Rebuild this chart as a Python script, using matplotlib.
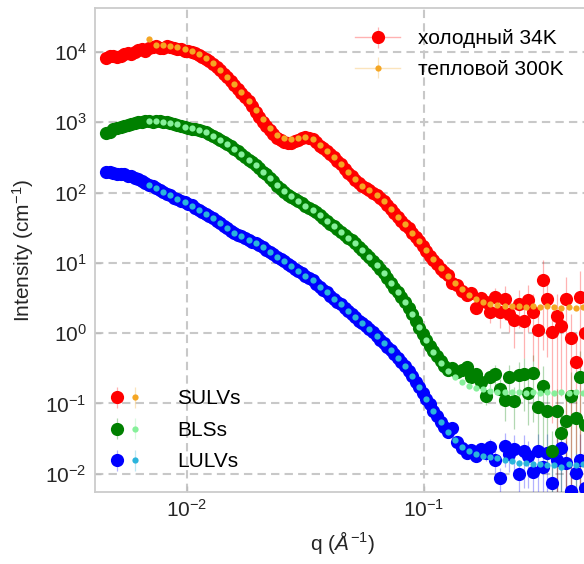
import numpy as np
import matplotlib
matplotlib.use("Agg")
import matplotlib.pyplot as plt
from matplotlib.lines import Line2D
from matplotlib.legend_handler import HandlerTuple

plt.rcParams['font.family'] = ['Liberation Sans', 'DejaVu Sans']
plt.rcParams['mathtext.fontset'] = 'custom'
plt.rcParams['mathtext.rm'] = 'Liberation Sans'
plt.rcParams['mathtext.it'] = 'Liberation Sans:italic'
plt.rcParams['mathtext.bf'] = 'Liberation Sans:bold'

# q grids (A^-1): cold source two detector settings, thermal source one
q_cold = np.concatenate([10 ** np.linspace(-2.34, -0.90, 97),
                         10 ** np.linspace(-0.88, -0.30, 30)])
q_warm = 10 ** np.linspace(-2.16, -0.30, 63)

# log10 intensity, cold neutrons (34 K)
sulv_cold_lg = [3.92, 3.95, 3.94, 3.93, 3.95, 3.97, 3.98, 3.97, 4.00, 4.03,
                4.04, 4.02, 4.05, 4.07, 4.08, 4.05, 4.06, 4.08, 4.07, 4.05,
                4.04, 4.04, 4.02, 4.01, 4.00, 3.98, 3.96, 3.93, 3.90, 3.87,
                3.83, 3.79, 3.74, 3.69, 3.64, 3.59, 3.53, 3.48, 3.42, 3.36,
                3.30, 3.23, 3.15, 3.08, 3.01, 2.95, 2.89, 2.83, 2.78, 2.75,
                2.72, 2.71, 2.71, 2.73, 2.75, 2.77, 2.79, 2.78, 2.76, 2.72,
                2.67, 2.63, 2.59, 2.55, 2.50, 2.45, 2.40, 2.34, 2.28, 2.23,
                2.18, 2.13, 2.09, 2.06, 2.03, 2.00, 1.97, 1.93, 1.88, 1.83,
                1.77, 1.71, 1.65, 1.60, 1.54, 1.49, 1.43, 1.37, 1.31, 1.24,
                1.17, 1.10, 1.04, 0.98, 0.92, 0.87, 0.83,
                0.72, 0.68, 0.60, 0.55, 0.57, 0.36, 0.50, 0.44, 0.30, 0.51,
                0.30, 0.49, 0.28, 0.19, 0.42, 0.17, 0.47, 0.30, 0.05, 0.76,
                0.48, 0.02, 0.25, 0.10, 0.48, -0.07, -0.41, 0.52, 0.00, 0.35]
bls_cold_lg = [2.85, 2.86, 2.90, 2.92, 2.93, 2.95, 2.96, 2.97, 2.99, 3.00,
               3.01, 3.02, 3.02, 3.01, 3.02, 3.02, 3.01, 3.00, 2.99, 2.98,
               2.96, 2.95, 2.93, 2.92, 2.91, 2.90, 2.89, 2.88, 2.86, 2.84,
               2.81, 2.78, 2.75, 2.72, 2.69, 2.66, 2.62, 2.59, 2.55, 2.51,
               2.47, 2.43, 2.39, 2.35, 2.30, 2.26, 2.21, 2.16, 2.10, 2.05,
               2.01, 1.97, 1.94, 1.91, 1.88, 1.85, 1.81, 1.78, 1.75, 1.72,
               1.68, 1.64, 1.60, 1.56, 1.52, 1.48, 1.44, 1.40, 1.35, 1.32,
               1.28, 1.23, 1.18, 1.13, 1.08, 1.03, 0.97, 0.91, 0.85, 0.79,
               0.72, 0.65, 0.58, 0.51, 0.44, 0.36, 0.27, 0.18, 0.08, -0.01,
               -0.10, -0.18, -0.26, -0.33, -0.40, -0.46, -0.52,
               -0.50, -0.55, -0.52, -0.48, -0.62, -0.58, -0.70, -0.90, -0.62, -0.58,
               -0.80, -0.95, -0.62, -0.97, -0.60, -0.58, -0.85, -0.57, -1.05, -0.75,
               -1.10, -1.68, -1.10, -1.42, -1.25, -0.90, -1.20, -0.62, -1.30, -0.80]
lulv_cold_lg = [2.29, 2.30, 2.28, 2.27, 2.27, 2.26, 2.24, 2.23, 2.21, 2.19,
                2.16, 2.14, 2.11, 2.09, 2.06, 2.03, 2.01, 1.98, 1.96, 1.93,
                1.91, 1.88, 1.86, 1.84, 1.82, 1.78, 1.75, 1.73, 1.70, 1.67,
                1.64, 1.60, 1.57, 1.53, 1.50, 1.46, 1.43, 1.40, 1.38, 1.35,
                1.33, 1.30, 1.28, 1.25, 1.22, 1.18, 1.15, 1.12, 1.09, 1.06,
                1.03, 0.99, 0.96, 0.92, 0.89, 0.85, 0.82, 0.78, 0.75, 0.70,
                0.66, 0.62, 0.58, 0.53, 0.49, 0.45, 0.41, 0.36, 0.32, 0.27,
                0.23, 0.18, 0.14, 0.10, 0.06, 0.01, -0.04, -0.09, -0.14, -0.19,
                -0.24, -0.29, -0.35, -0.41, -0.47, -0.54, -0.61, -0.69, -0.77, -0.85,
                -0.93, -1.01, -1.10, -1.18, -1.26, -1.33, -1.40,
                -1.35, -1.55, -1.63, -1.70, -1.66, -1.75, -1.65, -1.70, -1.62, -1.80,
                -2.06, -1.60, -1.72, -1.65, -2.00, -1.68, -1.75, -1.98, -1.68, -1.90,
                -1.70, -2.13, -1.80, -1.63, -1.85, -2.25, -1.99, -1.80, -2.20, -1.70]

# log10 intensity, thermal neutrons (300 K)
sulv_warm_lg = [4.18, 4.10, 4.10, 4.08, 4.07, 4.04, 4.01, 3.97, 3.91, 3.84,
                3.75, 3.65, 3.54, 3.43, 3.31, 3.17, 3.04, 2.92, 2.82, 2.77,
                2.76, 2.77, 2.79, 2.76, 2.68, 2.59, 2.50, 2.40, 2.29, 2.19,
                2.10, 2.03, 1.97, 1.88, 1.77, 1.66, 1.55, 1.43, 1.31, 1.18,
                1.05, 0.93, 0.82, 0.72, 0.63, 0.55, 0.49, 0.44, 0.41, 0.40,
                0.39, 0.38, 0.38, 0.37, 0.38, 0.37, 0.38, 0.37, 0.36, 0.37,
                0.36, 0.37, 0.36]
bls_warm_lg = [3.02, 3.02, 3.01, 2.99, 2.97, 2.94, 2.92, 2.89, 2.86, 2.81,
               2.75, 2.69, 2.62, 2.55, 2.47, 2.39, 2.30, 2.21, 2.11, 2.02,
               1.95, 1.88, 1.81, 1.75, 1.68, 1.60, 1.52, 1.44, 1.36, 1.28,
               1.18, 1.08, 0.97, 0.85, 0.72, 0.58, 0.44, 0.27, 0.09, -0.10,
               -0.27, -0.42, -0.54, -0.63, -0.70, -0.75, -0.78, -0.80, -0.82, -0.83,
               -0.83, -0.84, -0.84, -0.85, -0.84, -0.85, -0.84, -0.85, -0.84, -0.85,
               -0.84, -0.85, -0.85]
lulv_warm_lg = [2.11, 2.06, 2.01, 1.96, 1.91, 1.86, 1.81, 1.75, 1.70, 1.64,
                1.57, 1.50, 1.43, 1.38, 1.33, 1.28, 1.22, 1.15, 1.09, 1.03,
                0.96, 0.89, 0.82, 0.75, 0.66, 0.58, 0.49, 0.41, 0.32, 0.23,
                0.14, 0.06, -0.04, -0.14, -0.24, -0.35, -0.47, -0.61, -0.77, -0.93,
                -1.10, -1.26, -1.40, -1.52, -1.62, -1.68, -1.72, -1.75, -1.76, -1.78,
                -1.80, -1.82, -1.84, -1.85, -1.86, -1.86, -1.87, -1.88, -1.90, -1.86,
                -1.87, -1.86, -1.87]

# relative errors of the cold data on the high-q detector setting
rel_err_hi = [0.05, 0.06, 0.08, 0.10, 0.12, 0.15, 0.20, 0.25, 0.30, 0.35,
              0.40, 0.50, 0.45, 0.60, 0.55, 0.70, 0.65, 0.80, 0.75, 0.90,
              0.85, 0.95, 1.00, 0.90, 1.10, 1.20, 0.95, 1.30, 1.10, 1.20]
rel_err_cold = np.concatenate([np.zeros(97), rel_err_hi])
rel_err_warm = 0.05

names = ['SULVs', 'BLSs', 'LULVs']
cold_data = [sulv_cold_lg, bls_cold_lg, lulv_cold_lg]
warm_data = [sulv_warm_lg, bls_warm_lg, lulv_warm_lg]
cold_colors = ['#ff0000', '#008000', '#0000ff']
warm_colors = ['#f5a623', '#86f09a', '#2ab4dc']

x_ticks = [1e-2, 1e-1]
y_ticks = [1e-2, 1e-1, 1e0, 1e1, 1e2, 1e3, 1e4]

fig = plt.figure(figsize=(5.84, 5.64), dpi=100)
ax = fig.add_axes([95 / 584, 72 / 564, 496 / 584, 484 / 564])
ax.set_xscale('log')
ax.set_yscale('log')

cold_h = {}
warm_h = {}
# cold first (blue at the bottom of the stack), thermal on top
for name, lg, c in reversed(list(zip(names, cold_data, cold_colors))):
    I = 10 ** np.array(lg)
    h = ax.errorbar(q_cold, I, yerr=rel_err_cold * I, fmt='o', ms=9.5, mew=0,
                    color=c, ecolor=c, elinewidth=0.9, capsize=0, zorder=3)
    h[2][0].set_alpha(0.3)
    cold_h[name] = h
for name, lg, c in zip(names, warm_data, warm_colors):
    I = 10 ** np.array(lg)
    h = ax.errorbar(q_warm, I, yerr=rel_err_warm * I, fmt='o', ms=4.5, mew=0,
                    color=c, ecolor=c, elinewidth=0.9, capsize=0, zorder=4)
    h[2][0].set_alpha(0.3)
    warm_h[name] = h

ax.set_xlim(10 ** -2.388, 10 ** -0.2954)
ax.set_ylim(10 ** -2.259, 10 ** 4.626)
ax.set_xticks(x_ticks)
ax.set_yticks(y_ticks)
ax.xaxis.set_minor_locator(plt.NullLocator())
ax.yaxis.set_minor_locator(plt.NullLocator())

ax.set_axisbelow(True)
ax.grid(True, which='major', ls=(0, (4, 2.5)), color='#c8c8c8', lw=1.5)
for sp in ax.spines.values():
    sp.set_color('#cccccc')
    sp.set_linewidth(1.3)
ax.tick_params(direction='in', length=4, width=1, color='#bbbbbb',
               labelsize=15, labelcolor='#262626')
ax.tick_params(axis='y', pad=6)
ax.tick_params(axis='x', pad=5)

ax.set_ylabel('Intensity (cm$^{-1}$)', fontsize=15, color='#262626', labelpad=6.5)
ax.set_xlabel('q ($Å^{-1}$)', fontsize=15, color='#262626', labelpad=6)

# legend for the neutron source
top_handles = [(Line2D([], [], color=cold_colors[0], alpha=0.3, lw=1), cold_h['SULVs']),
               (Line2D([], [], color=warm_colors[0], alpha=0.3, lw=1), warm_h['SULVs'])]
fig.legend(top_handles, ['холодный 34K', 'тепловой 300K'],
           handler_map={tuple: HandlerTuple(ndivide=1)},
           loc='upper left', bbox_to_anchor=(345 / 584, 1 - 19 / 564),
           frameon=False, fontsize=15, borderpad=0, handlelength=2.15,
           handletextpad=0.85, labelspacing=0.55)

# legend for the samples
bottom_handles = [(cold_h[n], warm_h[n]) for n in names]
fig.legend(bottom_handles, names,
           handler_map={tuple: HandlerTuple(ndivide=None, pad=0)},
           loc='upper left', bbox_to_anchor=(98 / 584, 1 - 379 / 564),
           frameon=False, fontsize=15, borderpad=0, handlelength=1.7,
           handletextpad=1.6, labelspacing=0.6)

fig.savefig('out.png', dpi=100)
